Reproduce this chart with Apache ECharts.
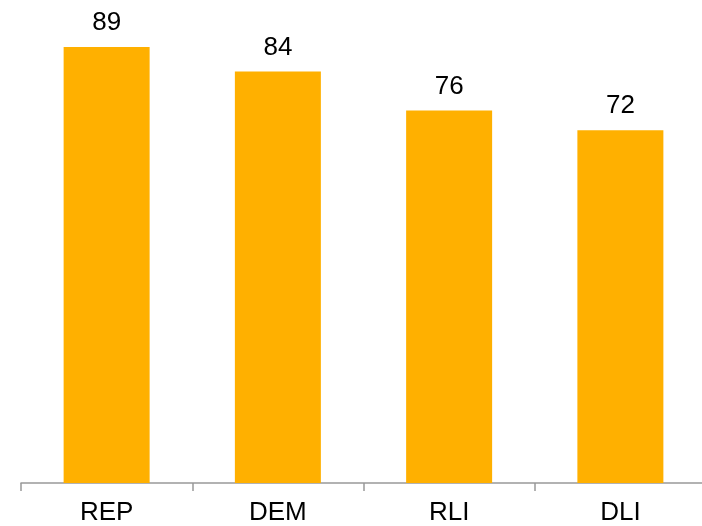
<!DOCTYPE html>
<html>
<head>
<meta charset="utf-8">
<script src="https://cdn.jsdelivr.net/npm/echarts@6/dist/echarts.min.js"></script>
<style>
  html, body { margin: 0; padding: 0; background: #fff; }
  #chart { width: 702px; height: 526px; }
</style>
</head>
<body>
<div id="chart"></div>
<script>
// 카테고리 / 값
const categories = ['REP', 'DEM', 'RLI', 'DLI'];
const scores = [89, 84, 76, 72];

const chart = echarts.init(document.getElementById('chart'));

const option = {
	animation: false,
	grid: { left: 21, right: -4, top: 42, bottom: 43, outerBoundsMode: 'none' },
	xAxis: {
		type: 'category',
		data: categories,
		axisLine: { lineStyle: { color: '#999', width: 1.5 } },
		axisTick: { show: true, length: 8, lineStyle: { color: '#999', width: 1.5 } },
		axisLabel: {
			color: '#000',
			fontSize: 26,
			fontFamily: 'Liberation Sans, Arial, sans-serif',
			margin: 17
		}
	},
	yAxis: {
		type: 'value',
		min: 0,
		max: 90,
		show: false,
		splitLine: { show: false }
	},
	series: [
		{
			type: 'bar',
			data: scores,
			barWidth: 86,
			itemStyle: { color: '#FFB000' },
			label: {
				show: true,
				position: 'top',
				distance: 11,
				color: '#000',
				fontSize: 26,
				fontFamily: 'Liberation Sans, Arial, sans-serif'
			}
		}
	]
};

chart.setOption(option);
</script>
</body>
</html>
